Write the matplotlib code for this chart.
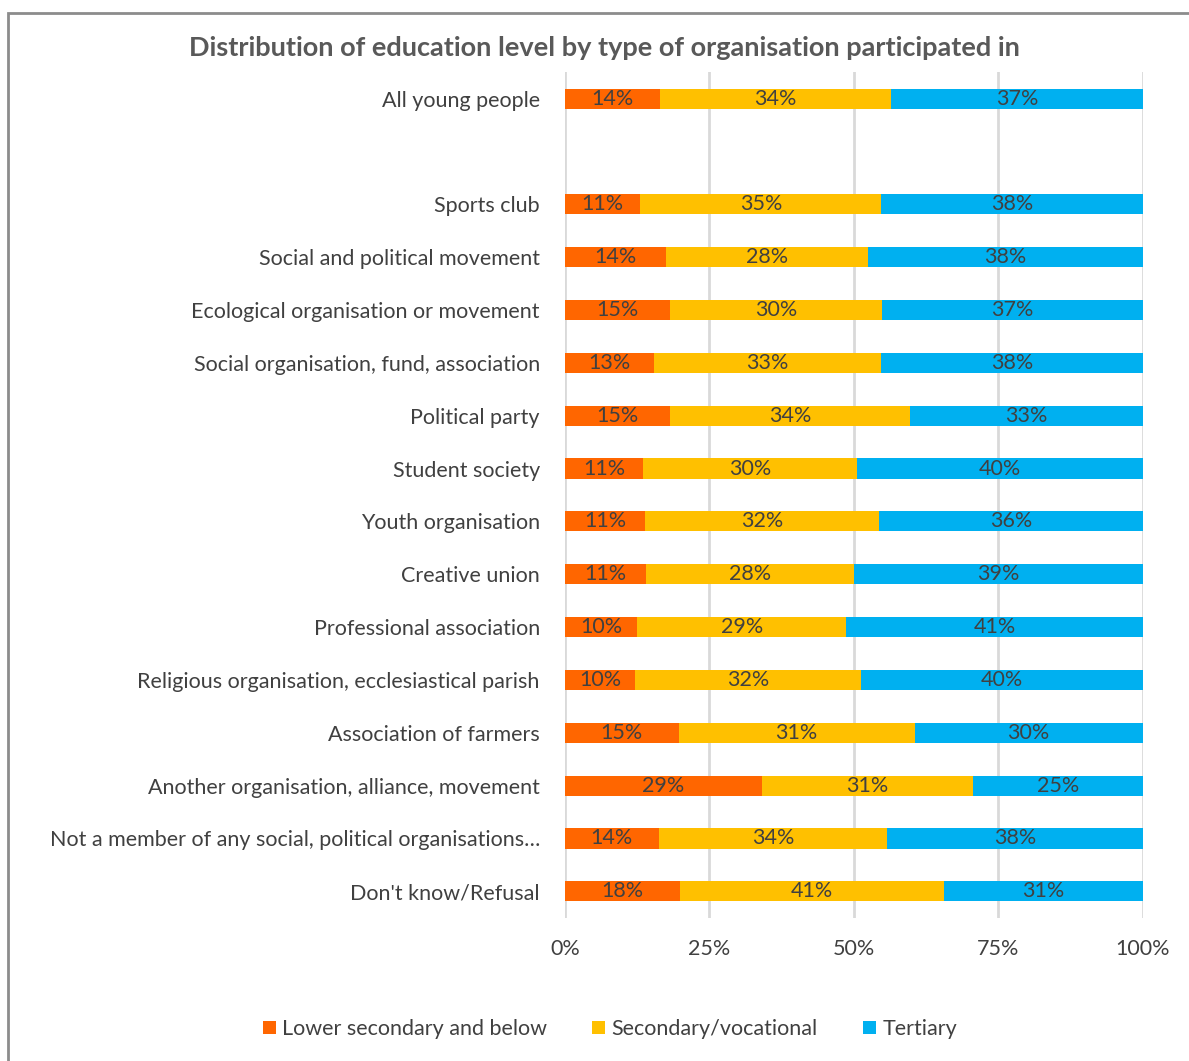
import matplotlib.pyplot as plt
import numpy as np
from matplotlib.patches import Rectangle

plt.rcParams['font.family'] = ['Lato', 'DejaVu Sans']

categories = [
    "All young people",
    "Sports club",
    "Social and political movement",
    "Ecological organisation or movement",
    "Social organisation, fund, association",
    "Political party",
    "Student society",
    "Youth organisation",
    "Creative union",
    "Professional association",
    "Religious organisation, ecclesiastical parish",
    "Association of farmers",
    "Another organisation, alliance, movement",
    "Not a member of any social, political organisations\u2026",
    "Don't know/Refusal",
]
lower_secondary = [14, 11, 14, 15, 13, 15, 11, 11, 11, 10, 10, 15, 29, 14, 18]
secondary_vocational = [34, 35, 28, 30, 33, 34, 30, 32, 28, 29, 32, 31, 31, 34, 41]
tertiary = [37, 38, 38, 37, 38, 33, 40, 36, 39, 41, 40, 30, 25, 38, 31]

series_names = ["Lower secondary and below", "Secondary/vocational", "Tertiary"]
colors = ["#FF6600", "#FFC000", "#00B0F0"]

text_col = "#404040"

data = np.array([lower_secondary, secondary_vocational, tertiary], dtype=float)
shares = data / data.sum(axis=0) * 100  # 100% stacked

# leave an empty slot after the first row
ypos = np.array([0] + list(range(2, len(categories) + 1)))

fig = plt.figure(figsize=(11.89, 10.61), dpi=100)
ax = fig.add_axes([0.475, 0.135, 0.486, 0.797])

left = np.zeros(len(categories))
for i in range(3):
    rects = ax.barh(ypos, shares[i], left=left, height=0.38, color=colors[i],
                    label=series_names[i], zorder=3)
    ax.bar_label(rects, labels=[f"{int(v)}%" for v in data[i]], label_type='center',
                 fontsize=15.5, color=text_col)
    left += shares[i]

ax.set_xlim(0, 100)
ax.set_ylim(ypos[-1] + 0.5, -0.5)
ax.set_yticks(ypos, categories)
ax.set_xticks([0, 25, 50, 75, 100], ["0%", "25%", "50%", "75%", "100%"])
ax.tick_params(axis='y', length=0, pad=18, labelsize=15.5, labelcolor=text_col)
ax.tick_params(axis='x', length=0, pad=15, labelsize=15.5, labelcolor=text_col)
ax.grid(axis='x', color="#D9D9D9", linewidth=2, zorder=0)
for s in ax.spines.values():
    s.set_visible(False)

fig.text(0.508, 0.955, "Distribution of education level by type of organisation participated in",
         ha='center', va='center', fontsize=19.5, fontweight='bold', color="#595959")

fig.legend(loc='center', bbox_to_anchor=(0.513, 0.030), ncol=3, frameon=False,
           fontsize=15.5, handlelength=0.6, handleheight=0.6, handletextpad=0.3,
           columnspacing=2.1, labelcolor=text_col)

# outer chart frame
fig.patches.append(Rectangle((8 / 1189, -0.05), 1.1, 1.05 - 13 / 1061,
                             transform=fig.transFigure, fill=False,
                             edgecolor="#8C8C8C", linewidth=2))

fig.savefig("out.png", dpi=100)
